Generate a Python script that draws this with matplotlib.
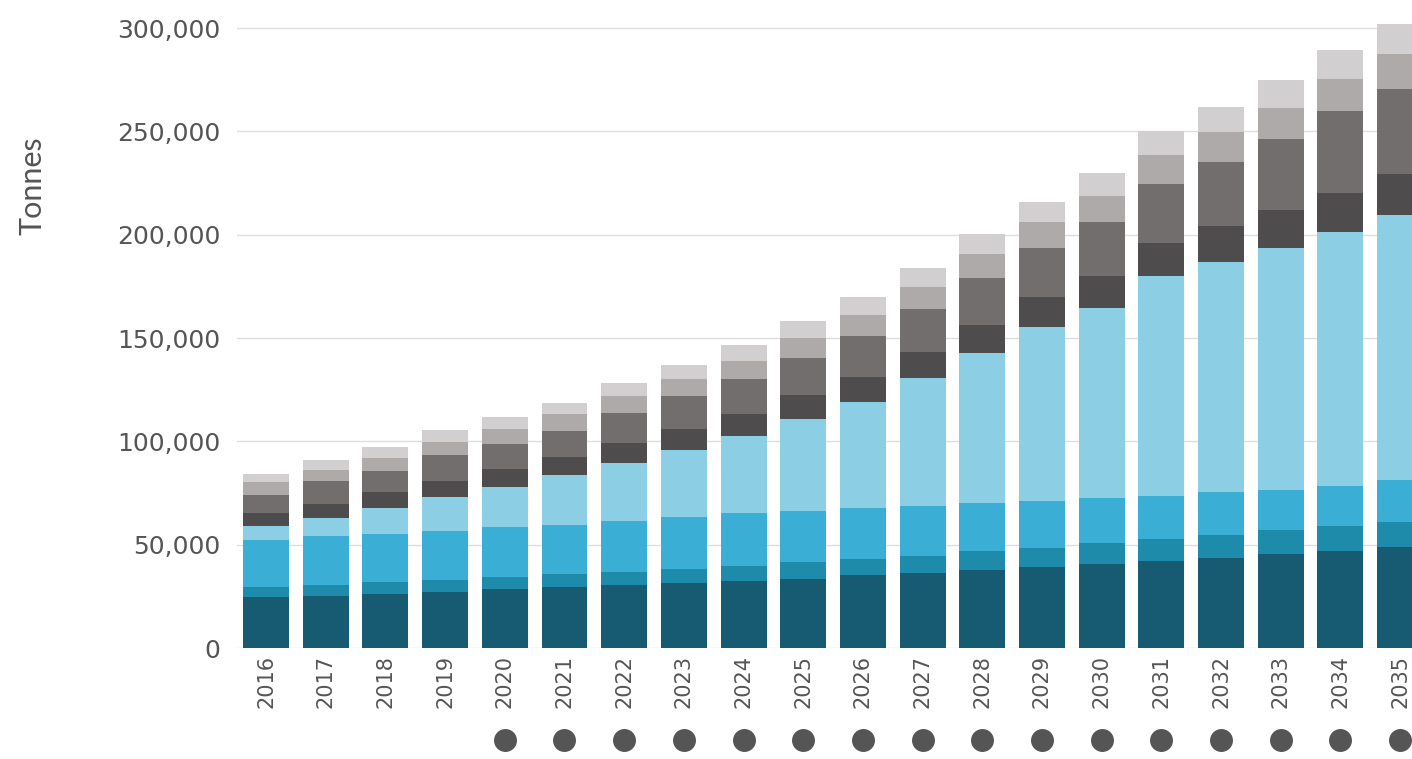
#!/usr/bin/env python3
"""Stacked annual tonnage by category, 2016-2035, with forecast markers."""

from __future__ import annotations

import matplotlib

matplotlib.use("Agg")
import matplotlib.pyplot as plt
import matplotlib.transforms as mtransforms
import numpy as np
from matplotlib.ticker import FuncFormatter

YEARS = list(range(2016, 2036))
FORECAST_YEARS = list(range(2020, 2036))

# Stack layers, bottom to top (tonnes)
LAYER_1 = [24800, 25200, 26100, 27100, 28400, 29400, 30300, 31500, 32600, 33500,
           35200, 36300, 37700, 39300, 40500, 42100, 43600, 45300, 46900, 48900]
LAYER_2 = [4600, 5200, 5800, 5800, 5800, 6400, 6600, 6800, 7300, 8100,
           8000, 8200, 9200, 9100, 10200, 10600, 11300, 11800, 12200, 12300]
LAYER_3 = [22900, 23900, 23400, 23600, 24200, 23900, 24700, 25200, 25400, 24800,
           24400, 24100, 23100, 22900, 21800, 20900, 20500, 19500, 19200, 20200]
LAYER_4 = [6800, 8700, 12300, 16400, 19600, 23900, 27800, 32400, 37500, 44400,
           51600, 61900, 72700, 84200, 92200, 106300, 111500, 117100, 122900, 127900]
LAYER_5 = [6400, 6800, 7700, 8000, 8700, 9000, 9700, 10000, 10500, 11500,
           11800, 12700, 13700, 14400, 15200, 16000, 17100, 18300, 19000, 20200]
LAYER_6 = [8600, 10800, 10300, 12300, 12000, 12600, 14800, 16100, 17100, 18200,
           20100, 21000, 22600, 23700, 26000, 28700, 31200, 34400, 39500, 41000]
LAYER_7 = [6100, 5700, 6400, 6300, 7300, 7900, 8200, 8200, 8600, 9500,
           10200, 10600, 11500, 12300, 12900, 13900, 14500, 15000, 15600, 16900]
LAYER_8 = [3900, 4800, 5300, 6000, 5700, 5300, 6000, 6800, 7700, 8100,
           8400, 9100, 9700, 10000, 11100, 11800, 12100, 13200, 13900, 14700]

LAYER_COLORS = ["#175b72", "#1f8bab", "#3baed6", "#8ccee4",
                "#4e4c4c", "#736e6e", "#aeaaaa", "#d1cfd0"]

TEXT_COLOR = "#555555"
GRID_COLOR = "#dedede"


def main() -> None:
    layers = [LAYER_1, LAYER_2, LAYER_3, LAYER_4, LAYER_5, LAYER_6, LAYER_7, LAYER_8]
    years = np.array(YEARS)

    fig = plt.figure(figsize=(14.12, 7.59), dpi=100)
    ax = fig.add_axes([237 / 1412, 111 / 759, 1 - 237 / 1412, 648 / 759])

    bottom = np.zeros(len(years))
    for values, color in zip(layers, LAYER_COLORS):
        vals = np.array(values, dtype=float)
        ax.bar(years, vals, bottom=bottom, width=0.77, color=color,
               linewidth=0, zorder=3)
        bottom += vals

    ax.set_xlim(2015.513, 2035.2)
    ax.set_ylim(0, 313550)
    ax.set_yticks(np.arange(0, 300001, 50000))
    ax.yaxis.set_major_formatter(FuncFormatter(lambda v, _: f"{int(v):,}"))
    ax.set_xticks(years)
    ax.set_xticklabels([str(y) for y in YEARS], rotation=90)

    for side in ("top", "right", "left", "bottom"):
        ax.spines[side].set_visible(False)
    ax.tick_params(axis="y", length=0, pad=12, labelsize=18, labelcolor=TEXT_COLOR)
    ax.tick_params(axis="x", length=0, pad=5, labelsize=15, labelcolor=TEXT_COLOR)
    ax.grid(axis="y", color=GRID_COLOR, linewidth=1.0, zorder=0)
    ax.set_axisbelow(True)

    # forecast markers under the year labels
    trans = mtransforms.blended_transform_factory(ax.transData, ax.transAxes)
    ax.plot(FORECAST_YEARS, [-0.142] * len(FORECAST_YEARS), "o", color=TEXT_COLOR,
            markersize=15.5, transform=trans, clip_on=False)

    fig.text(32 / 1412, 1 - 186 / 759, "Tonnes", rotation=90, ha="center",
             va="center", fontsize=22, color=TEXT_COLOR, family="Lato")

    fig.savefig("out.png", dpi=100)
    plt.close(fig)


if __name__ == "__main__":
    main()
